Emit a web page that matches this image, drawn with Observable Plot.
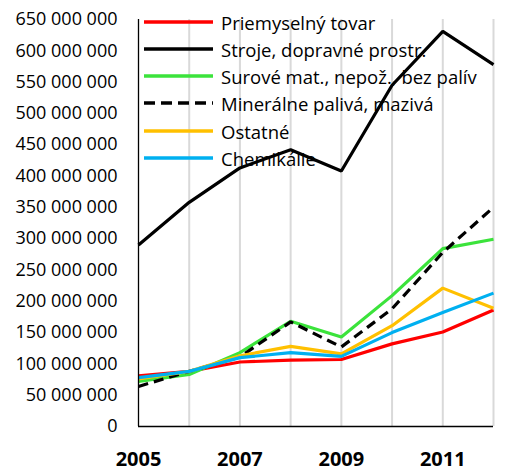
<!DOCTYPE html>
<html>
<head>
<meta charset="utf-8">
<script src="https://cdn.jsdelivr.net/npm/d3@7"></script>
<script src="https://cdn.jsdelivr.net/npm/@observablehq/plot@0.6"></script>
<style>
  html, body { margin: 0; padding: 0; background: #fff; }
  #wrap { position: relative; width: 512px; height: 467px; font-family: "Open Sans", sans-serif; overflow: hidden; }
  #legend { position: absolute; left: 0; top: 0; pointer-events: none; }
  .row { position: absolute; left: 144px; height: 24px; display: flex; align-items: center; font-size: 18.5px; color: #000; white-space: nowrap; }
  .row svg { margin-right: 8px; flex: none; }
</style>
</head>
<body>
<div id="wrap"><div id="legend"></div></div>
<script>
const years = [2005, 2006, 2007, 2008, 2009, 2010, 2011, 2012];
const seriesNames = [
  "Priemyselný tovar",
  "Stroje, dopravné prostr.",
  "Surové mat., nepož., bez palív",
  "Minerálne palivá, mazivá",
  "Ostatné",
  "Chemikálie"
];
const priemyselny = [81e6, 88e6, 103e6, 106e6, 107e6, 132e6, 151e6, 186e6];
const stroje      = [290e6, 358e6, 413e6, 442e6, 408e6, 545e6, 631e6, 578e6];
const surove      = [72e6, 83e6, 118e6, 168e6, 143e6, 209e6, 284e6, 299e6];
const mineralne   = [64e6, 88e6, 111e6, 167e6, 127e6, 188e6, 278e6, 350e6];
const ostatne     = [76e6, 88e6, 113e6, 128e6, 116e6, 161e6, 221e6, 189e6];
const chemikalie  = [78e6, 88e6, 110e6, 118e6, 112e6, 150e6, 182e6, 213e6];
const seriesValues = [priemyselny, stroje, surove, mineralne, ostatne, chemikalie];
const seriesColors = ["#ff0000", "#000000", "#3be33b", "#000000", "#ffc000", "#00b0f0"];
const seriesDash = [null, null, null, "10,6", null, null];
const yTicks = d3.range(0, 650e6 + 1, 50e6);
const xTickLabels = [2005, 2007, 2009, 2011];
const gridYears = [2006, 2007, 2008, 2009, 2010, 2011, 2012];

const fmt = d3.formatLocale({decimal: ",", thousands: " ", grouping: [3], currency: ["", ""]}).format(",d");

const lineMarks = seriesNames.map((name, i) => {
  const data = years.map((y, j) => ({year: y, value: seriesValues[i][j]}));
  return Plot.line(data, {
    x: "year", y: "value",
    stroke: seriesColors[i], strokeWidth: 3.2,
    strokeDasharray: seriesDash[i] || undefined,
    strokeLinejoin: "miter", strokeLinecap: "butt"
  });
});

const chart = Plot.plot({
  width: 512,
  height: 467,
  marginLeft: 138,
  marginRight: 19,
  marginTop: 19,
  marginBottom: 41,
  style: {fontFamily: "Open Sans", fontSize: "18px", color: "#000", background: "#fff"},
  x: {domain: [2005, 2012], label: null},
  y: {domain: [0, 650e6], label: null},
  marks: [
    Plot.ruleX(gridYears, {stroke: "#d9d9d9", strokeWidth: 2}),
    Plot.axisY({ticks: yTicks, tickFormat: fmt, tickSize: 0, tickPadding: 21, label: null, fill: "#000"}),
    Plot.axisX({ticks: xTickLabels, tickFormat: d => String(d), tickSize: 0, tickPadding: 25, label: null,
      fontWeight: "bold", fontSize: 20, fill: "#000"}),
    ...lineMarks,
    Plot.ruleX([2005], {stroke: "#000", strokeWidth: 1.3}),
    Plot.ruleY([0], {stroke: "#000", strokeWidth: 1.3})
  ]
});
document.getElementById("wrap").prepend(chart);

// legend overlay (drawn over the plot area, as in the reference)
const legend = document.getElementById("legend");
const rowTops = [22, 49, 76, 103, 131, 158];
seriesNames.forEach((name, i) => {
  const row = document.createElement("div");
  row.className = "row";
  row.style.top = (rowTops[i] - 12) + "px";
  row.innerHTML = `<svg width="69" height="6"><line x1="0" x2="69" y1="3" y2="3" stroke="${seriesColors[i]}" stroke-width="3.4" ${seriesDash[i] ? `stroke-dasharray="11,6"` : ""}/></svg><span>${name}</span>`;
  legend.appendChild(row);
});
</script>
</body>
</html>
